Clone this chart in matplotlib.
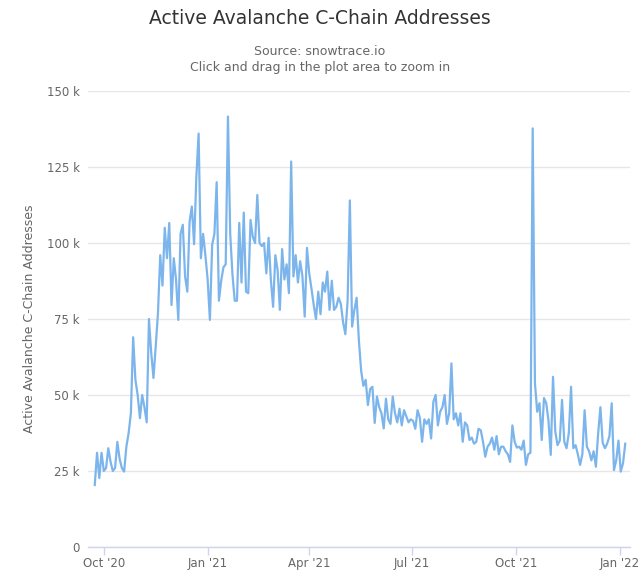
import numpy as np
import pandas as pd
import matplotlib
matplotlib.use("Agg")
import matplotlib.pyplot as plt
from matplotlib.ticker import FuncFormatter

# Daily active addresses (thousands), every 2 days from 2020-09-23
start_date = "2020-09-23"
addresses_k = [
    20.4, 31, 22.7, 31, 25, 26, 32.5, 28, 25, 26,
    34.6, 29, 26, 24.8, 33, 37.5, 44, 69, 55, 50,
    42.4, 50, 46, 41, 75, 64, 55.6, 66, 77, 96,
    86, 105, 95, 106.6, 79.6, 95, 88, 74.7, 103, 106,
    89, 84, 107, 112, 99.6, 121.8, 136, 95, 103, 96,
    88, 74.7, 99.4, 103, 120, 81, 87.6, 92, 93, 141.6,
    103, 89.6, 81, 81, 106.6, 87, 110, 84, 83.5, 107.6,
    102, 100, 115.8, 100, 99, 100, 90, 101.7, 88, 79,
    96, 91, 78, 98, 88, 93, 83.5, 126.8, 89, 96,
    87, 94, 89, 75.8, 98.4, 90, 85, 79.6, 75, 84,
    76.6, 87, 84, 90.6, 78, 87.6, 78, 79, 82, 80,
    74, 70, 81, 114, 72.5, 78, 82, 68, 58, 53,
    55, 46.7, 52, 52.7, 40.8, 49.5, 46, 44, 39, 48.8,
    42, 40.5, 49.5, 44, 41, 45.5, 40, 45, 43, 41,
    42, 41.5, 38.9, 45, 42.5, 34.6, 42, 40.5, 42, 35.7,
    47.8, 50, 40, 44.5, 46, 50, 40.5, 44, 60.4, 42,
    44, 40, 44, 34.6, 41, 40, 35.2, 36, 34, 34.6,
    38.9, 38.4, 34.6, 29.7, 33, 34, 36, 32, 36.5, 30.5,
    33, 33, 31.5, 30.5, 28, 40, 34.6, 32.7, 33, 32,
    35, 27, 30.5, 31, 137.7, 53.8, 44.5, 47.3, 35.2, 49,
    47.3, 41.5, 30.3, 56, 38, 33.5, 35, 48.4, 34.6, 32.5,
    37.5, 52.7, 32.5, 33.5, 30.5, 27, 30.5, 45, 33, 31.5,
    28.5, 31.5, 26.4, 37.4, 46, 34.3, 32.5, 34, 36.5, 47.3,
    25.3, 28.5, 35, 24.8, 27.5, 34,
]
dates = pd.date_range(start_date, periods=len(addresses_k), freq="2D")
values = np.array(addresses_k) * 1000

tick_dates = pd.to_datetime(["2020-10-01", "2021-01-01", "2021-04-01",
                             "2021-07-01", "2021-10-01", "2022-01-01"])
tick_labels = ["Oct '20", "Jan '21", "Apr '21", "Jul '21", "Oct '21", "Jan '22"]
y_ticks = [0, 25000, 50000, 75000, 100000, 125000, 150000]

plt.rcParams["font.family"] = "DejaVu Sans"

fig = plt.figure(figsize=(6.4, 5.87), dpi=100)
ax = fig.add_axes([0.1375, 0.0681, 0.8465, 0.7769])

ax.plot(dates, values, color="#7cb5ec", lw=1.6, solid_joinstyle="round")

ax.set_xlim(pd.Timestamp("2020-09-17"), pd.Timestamp("2022-01-10"))
ax.set_ylim(0, 150000)
ax.set_yticks(y_ticks)
ax.yaxis.set_major_formatter(FuncFormatter(lambda v, p: "0" if v == 0 else f"{int(v / 1000)} k"))
ax.set_xticks(tick_dates)
ax.set_xticklabels(tick_labels)

ax.grid(axis="y", color="#e6e6e6", lw=1)
ax.set_axisbelow(True)
for s in ["top", "right", "left"]:
    ax.spines[s].set_visible(False)
ax.spines["bottom"].set_color("#ccd6eb")
ax.spines["bottom"].set_linewidth(1)
ax.tick_params(axis="y", length=0, pad=6, labelsize=8.5, labelcolor="#666666")
ax.tick_params(axis="x", length=6, width=1, color="#ccd6eb", pad=1,
               labelsize=8.5, labelcolor="#666666")

ax.set_ylabel("Active Avalanche C-Chain Addresses", fontsize=9, color="#666666", labelpad=8)

fig.text(0.5, 0.969, "Active Avalanche C-Chain Addresses", ha="center", va="center",
         fontsize=13.5, color="#333333")
fig.text(0.5, 0.913, "Source: snowtrace.io", ha="center", va="center",
         fontsize=9, color="#666666")
fig.text(0.5, 0.885, "Click and drag in the plot area to zoom in", ha="center", va="center",
         fontsize=9, color="#666666")

fig.savefig("out.png", dpi=100)
